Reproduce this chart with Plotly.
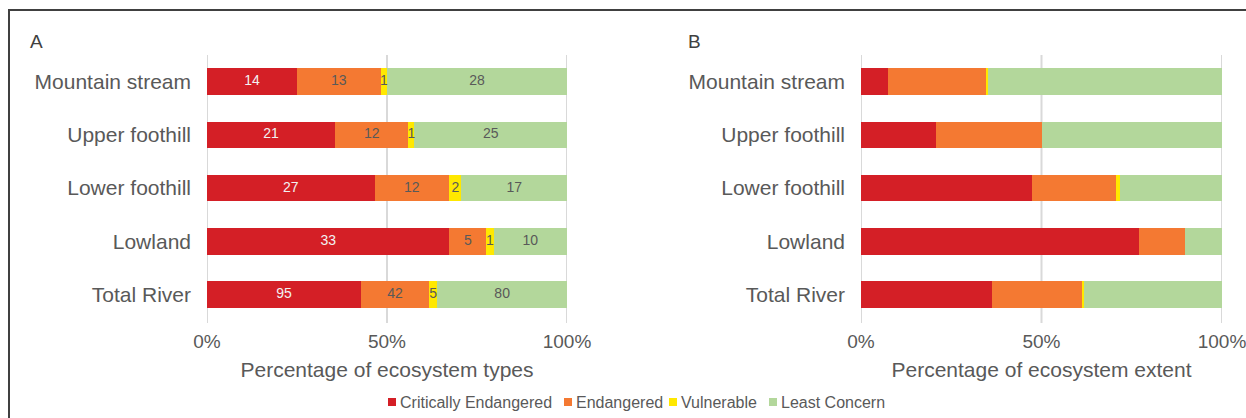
import plotly.graph_objects as go

# Ecosystem categories (top to bottom)
categories = ["Mountain stream", "Upper foothill", "Lower foothill", "Lowland", "Total River"]
statuses = ["Critically Endangered", "Endangered", "Vulnerable", "Least Concern"]
colors = ["#D41F26", "#F47932", "#FFE800", "#B3D79B"]
label_colors = ["#F2F2F2", "#595959", "#595959", "#595959"]

# Panel A: number of ecosystem types per threat status
types_ce = [14, 21, 27, 33, 95]
types_en = [13, 12, 12, 5, 42]
types_vu = [1, 1, 2, 1, 5]
types_lc = [28, 25, 17, 10, 80]

# Panel B: percentage of ecosystem extent per threat status
extent_ce = [7.4, 20.8, 47.4, 77.0, 36.2]
extent_en = [27.4, 29.2, 23.2, 12.8, 25.2]
extent_vu = [0.5, 0.0, 1.1, 0.0, 0.5]
extent_lc = [64.7, 50.0, 28.3, 10.2, 38.1]

tick_vals = [0, 50, 100]
tick_text = ["0%", "50%", "100%"]

FONT = "Liberation Sans Narrow, Arial Narrow, Liberation Sans, Arial, sans-serif"
GREY = "#595959"
W, H = 1246, 418

fig = go.Figure()

types = [types_ce, types_en, types_vu, types_lc]
extent = [extent_ce, extent_en, extent_vu, extent_lc]

# Panel A bars (counts normalised to 100 % per row via barnorm)
for i, name in enumerate(statuses):
    fig.add_trace(go.Bar(
        y=categories, x=types[i], orientation="h", name=name,
        marker=dict(color=colors[i], line=dict(width=0)),
        xaxis="x", yaxis="y", width=0.5, showlegend=False, hoverinfo="skip",
    ))

# Panel B bars
for i, name in enumerate(statuses):
    fig.add_trace(go.Bar(
        y=categories, x=extent[i], orientation="h", name=name,
        marker=dict(color=colors[i], line=dict(width=0)),
        xaxis="x2", yaxis="y2", width=0.5, showlegend=False, hoverinfo="skip",
    ))

# Count labels centred on each panel A segment
totals = [sum(col) for col in zip(*types)]
for i, name in enumerate(statuses):
    mids = []
    for r in range(len(categories)):
        before = sum(types[k][r] for k in range(i))
        mids.append((before + types[i][r] / 2) / totals[r] * 100)
    fig.add_trace(go.Scatter(
        x=mids, y=categories, mode="text", text=[str(v) for v in types[i]],
        textposition="middle center", cliponaxis=False,
        textfont=dict(family=FONT, size=14, color=label_colors[i]),
        xaxis="x", yaxis="y", showlegend=False, hoverinfo="skip",
    ))

axis_common = dict(
    range=[0, 100], tickvals=tick_vals, ticktext=tick_text, automargin=False,
    showgrid=False, zeroline=False, showline=False, ticks="",
    ticklabeloverflow="allow", ticklabelstandoff=7,
    tickfont=dict(family=FONT, size=19, color=GREY),
    title_font=dict(family=FONT, size=21, color=GREY),
    title_standoff=11,
)
yaxis_common = dict(
    autorange=False, range=[4.5, -0.5], domain=[1 - 321 / H, 1 - 55 / H],
    automargin=False, showgrid=False, zeroline=False, showline=False, ticks="",
    ticklabelstandoff=15, tickfont=dict(family=FONT, size=21, color=GREY),
)

# Compact legend row: coloured squares with labels
legend_x = [388, 564, 669, 769]
annotations = [
    dict(text="A", x=28 / W, y=1 - 41 / H, xref="paper", yref="paper",
         xanchor="left", yanchor="middle", showarrow=False,
         font=dict(family="Liberation Sans, Arial, sans-serif", size=19, color="#404040")),
    dict(text="B", x=686 / W, y=1 - 41 / H, xref="paper", yref="paper",
         xanchor="left", yanchor="middle", showarrow=False,
         font=dict(family="Liberation Sans, Arial, sans-serif", size=19, color="#404040")),
]
shapes = [
    dict(type="rect", xref="paper", yref="paper",
         x0=9 / W, x1=1.02, y0=-0.05, y1=1 - 10 / H,
         line=dict(color="#404040", width=2), fillcolor="rgba(0,0,0,0)"),
]
# Vertical gridlines at each tick, running slightly below the last bar
for xref in ("x", "x2"):
    for tv in tick_vals:
        shapes.append(dict(type="line", xref=xref, yref="paper", layer="below",
                           x0=tv, x1=tv, y0=1 - 323 / H, y1=1 - 55 / H,
                           line=dict(color="#D9D9D9", width=2)))
for i, name in enumerate(statuses):
    lx = legend_x[i]
    shapes.append(dict(type="rect", xref="paper", yref="paper",
                       x0=lx / W, x1=(lx + 8) / W, y0=1 - 406 / H, y1=1 - 398 / H,
                       line=dict(width=0), fillcolor=colors[i]))
    annotations.append(dict(text=name, x=(lx + 10) / W, y=1 - 402 / H,
                            xref="paper", yref="paper", xanchor="left", yanchor="middle",
                            showarrow=False,
                            font=dict(family=FONT, size=16, color=GREY)))

fig.update_layout(
    width=W, height=H,
    margin=dict(l=0, r=0, t=0, b=0),
    paper_bgcolor="white", plot_bgcolor="white",
    barmode="stack", barnorm="percent",
    showlegend=False,
    xaxis=dict(domain=[207 / W, 567 / W], anchor="y",
               title_text="Percentage of ecosystem types", **axis_common),
    yaxis=dict(anchor="x", **yaxis_common),
    xaxis2=dict(domain=[861 / W, 1222 / W], anchor="y2",
                title_text="Percentage of ecosystem extent", **axis_common),
    yaxis2=dict(anchor="x2", **yaxis_common),
    font=dict(family=FONT, color=GREY),
    annotations=annotations,
    shapes=shapes,
)

fig.write_html("out.html")
